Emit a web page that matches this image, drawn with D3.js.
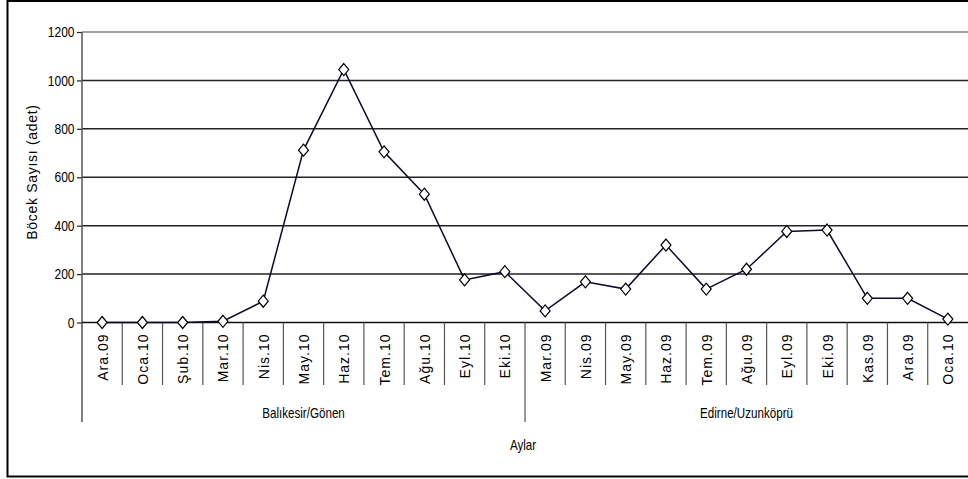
<!DOCTYPE html>
<html>
<head>
<meta charset="utf-8">
<script src="https://cdn.jsdelivr.net/npm/d3@7"></script>
<style>
  body { margin: 0; background: #fff; }
  text { font-family: "Liberation Sans", Arial, sans-serif; fill: #000; }
</style>
</head>
<body>
<div id="chart"></div>
<script>
// months in order, first group then second group
const months = ['Ara.09', 'Oca.10', 'Şub.10', 'Mar.10', 'Nis.10', 'May.10', 'Haz.10', 'Tem.10', 'Ağu.10', 'Eyl.10', 'Eki.10',
    'Mar.09', 'Nis.09', 'May.09', 'Haz.09', 'Tem.09', 'Ağu.09', 'Eyl.09', 'Eki.09', 'Kas.09', 'Ara.09', 'Oca.10'];
const counts = [0, 0, 0, 5, 88, 712, 1045, 705, 530, 176, 210,
    48, 168, 138, 320, 138, 220, 376, 382, 100, 100, 14];
const groups = [['Balıkesir/Gönen', 11], ['Edirne/Uzunköprü', 11]];
const yTicks = [0, 200, 400, 600, 800, 1000, 1200];

const svgWidth = 968, svgHeight = 479;
const plotLeft = 82, plotRight = 968, plotTop = 32, zeroY = 322.5;
const squeeze = 0.83; // the original uses a condensed face for some labels

const svg = d3.select('#chart').append('svg')
    .attr('width', svgWidth)
    .attr('height', svgHeight);

// outer frame
svg.append('rect')
    .attr('x', 7.5).attr('y', 1)
    .attr('width', 970).attr('height', 475.5)
    .attr('fill', 'none')
    .attr('stroke', '#000')
    .attr('stroke-width', 2);

const x = d3.scaleBand()
    .domain(d3.range(months.length))
    .range([plotLeft, plotRight]);

const y = d3.scaleLinear()
    .domain([0, 1200])
    .range([zeroY, plotTop]);

// gridlines
svg.append('g')
    .selectAll('line')
    .data(yTicks.filter(d => d > 0))
    .enter()
    .append('line')
    .attr('x1', plotLeft).attr('x2', plotRight)
    .attr('y1', d => y(d)).attr('y2', d => y(d))
    .attr('stroke', d => d === 1200 ? '#808080' : '#222')
    .attr('stroke-width', 1.5);

// y axis
const yAxis = d3.axisLeft(y).tickValues(yTicks).tickFormat(d3.format('d')).tickSize(5).tickPadding(4);
const yG = svg.append('g')
    .attr('transform', `translate(${plotLeft},0)`)
    .call(yAxis);
yG.select('.domain').remove();
yG.selectAll('line').attr('stroke', '#222').attr('stroke-width', 1.2);
yG.selectAll('text')
    .attr('transform', `scale(${squeeze},1)`)
    .style('font-size', '14.5px')
    .style('font-family', '"Liberation Sans", Arial, sans-serif');

// left axis line, running down through the category area
svg.append('line')
    .attr('x1', plotLeft).attr('x2', plotLeft)
    .attr('y1', plotTop).attr('y2', 422)
    .attr('stroke', '#555').attr('stroke-width', 1.5);

// x baseline
svg.append('line')
    .attr('x1', plotLeft).attr('x2', plotRight)
    .attr('y1', zeroY).attr('y2', zeroY)
    .attr('stroke', '#111').attr('stroke-width', 1.5);

// category ticks
svg.append('g')
    .selectAll('line')
    .data(d3.range(1, months.length))
    .enter()
    .append('line')
    .attr('x1', i => x(i)).attr('x2', i => x(i))
    .attr('y1', zeroY).attr('y2', i => i === 11 ? 422 : 385)
    .attr('stroke', '#555').attr('stroke-width', 1.2);

// category labels
svg.append('g')
    .selectAll('text')
    .data(months)
    .enter()
    .append('text')
    .attr('transform', (d, i) => `translate(${x(i) + x.bandwidth() / 2 + 5.5},${zeroY + 11}) rotate(-90)`)
    .attr('text-anchor', 'end')
    .style('font-size', '14px')
    .style('letter-spacing', '1px')
    .text(d => d);

// group labels
let start = 0;
groups.forEach(g => {
    const x0 = x(start);
    const x1 = start + g[1] >= months.length ? plotRight : x(start + g[1]);
    svg.append('text')
        .attr('transform', `translate(${(x0 + x1) / 2},418) scale(${squeeze},1)`)
        .attr('text-anchor', 'middle')
        .style('font-size', '14px')
        .text(g[0]);
    start += g[1];
});

// axis titles
svg.append('text')
    .attr('transform', `translate(523,450) scale(${squeeze},1)`)
    .attr('text-anchor', 'middle')
    .style('font-size', '14px')
    .text('Aylar');

svg.append('text')
    .attr('transform', `translate(37,172) rotate(-90)`)
    .attr('text-anchor', 'middle')
    .style('font-size', '14px')
    .style('letter-spacing', '0.7px')
    .text('Böcek Sayısı (adet)');

// series line
const line = d3.line()
    .x((d, i) => x(i) + x.bandwidth() / 2)
    .y(d => y(d));

svg.append('path')
    .datum(counts)
    .attr('d', line)
    .attr('fill', 'none')
    .attr('stroke', '#0a0a2a')
    .attr('stroke-width', 1.5);

// diamond markers
svg.append('g')
    .selectAll('path')
    .data(counts)
    .enter()
    .append('path')
    .attr('transform', (d, i) => `translate(${x(i) + x.bandwidth() / 2},${y(d)})`)
    .attr('d', 'M0,-6L5,0L0,6L-5,0Z')
    .attr('fill', '#fff')
    .attr('stroke', '#000')
    .attr('stroke-width', 1.2);
</script>
</body>
</html>
